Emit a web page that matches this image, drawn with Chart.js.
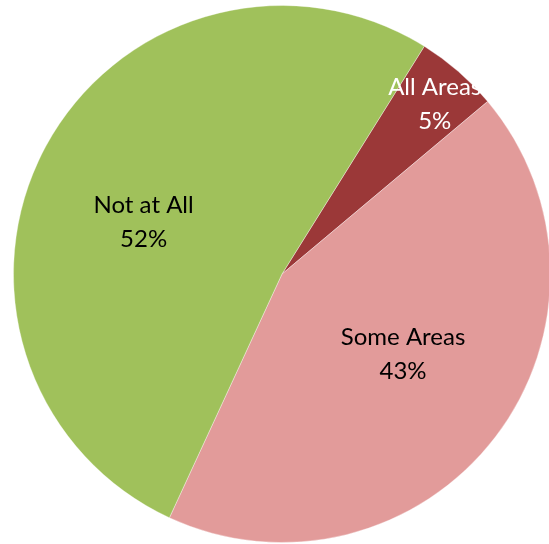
<!DOCTYPE html>
<html>
<head>
<meta charset="utf-8">
<script src="https://cdn.jsdelivr.net/npm/chart.js@4"></script>
<style>
  html, body { margin: 0; padding: 0; background: #fff; overflow: hidden; }
  #wrap { position: absolute; left: 0; top: 0; width: 560px; height: 546px; }
</style>
</head>
<body>
<div id="wrap"><canvas id="graficoPizza"></canvas></div>
<script>
// dados do gráfico (ordem horária a partir do topo)
const categorias = ['All Areas', 'Some Areas', 'Not at All'];
const valores = [5, 43, 52];
const cores = ['#9B3838', '#E29B9A', '#A0C15B'];
const coresTexto = ['#ffffff', '#000000', '#000000'];
// posição dos rótulos: fração do raio e desvio angular (graus)
const raioRotulo = [0.85, 0.54, 0.55];
const desvioRotulo = [1, -4, -8];

const ctx = document.getElementById('graficoPizza').getContext('2d');

new Chart(ctx, {
    type: 'pie',
    data: {
        labels: categorias,
        datasets: [{
            data: valores,
            backgroundColor: cores,
            borderColor: 'rgba(255,255,255,0.35)',
            borderWidth: 1
        }]
    },
    options: {
        responsive: true,
        maintainAspectRatio: false,
        animation: false,
        rotation: 32,
        layout: { padding: { left: 13, top: 5, right: 9, bottom: 3 } },
        plugins: {
            legend: { display: false },
            tooltip: { enabled: false }
        }
    },
    plugins: [{
        // rótulos dentro das fatias
        id: 'rotulos',
        afterDraw(chart) {
            const { ctx } = chart;
            const meta = chart.getDatasetMeta(0);
            const total = valores.reduce((a, b) => a + b, 0);
            ctx.save();
            ctx.font = '24px Lato';
            ctx.textAlign = 'center';
            ctx.textBaseline = 'middle';
            meta.data.forEach((arco, i) => {
                const p = arco.getProps(['x', 'y', 'startAngle', 'endAngle', 'outerRadius'], true);
                const ang = (p.startAngle + p.endAngle) / 2 + desvioRotulo[i] * Math.PI / 180;
                const r = p.outerRadius * raioRotulo[i];
                const x = p.x + Math.cos(ang) * r;
                const y = p.y + Math.sin(ang) * r;
                ctx.fillStyle = coresTexto[i];
                ctx.fillText(categorias[i], x, y - 17);
                ctx.fillText(Math.round(valores[i] / total * 100) + '%', x, y + 17);
            });
            ctx.restore();
        }
    }]
});
</script>
</body>
</html>
